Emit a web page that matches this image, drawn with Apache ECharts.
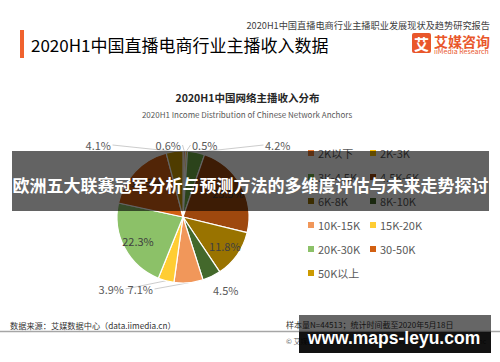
<!DOCTYPE html>
<html><head><meta charset="utf-8">
<script src="https://cdn.jsdelivr.net/npm/echarts@6/dist/echarts.min.js"></script>
<style>html,body{margin:0;padding:0;background:#fff}#c{width:500px;height:362px}</style>
</head><body><div id="c"></div>
<script>
// ---- data ----
const categories = ['2K以下','2K-3K','3K-4.5K','4.5K-6K','6K-8K','8K-10K','10K-15K','15K-20K','20K-30K','30-50K','50K以上'];
const shares = [0.6, 0.5, 4.2, 23.5, 11.8, 4.5, 7.1, 3.9, 22.3, 17.5, 4.1];
const legendColumnA = ['2K以下','3K-4.5K','6K-8K','10K-15K','20K-30K','50K以上'];
const legendColumnB = ['2K-3K','4.5K-6K','8K-10K','15K-20K','30-50K'];

// ---- styles ----
const palette = ['#ED7D31','#FFC000','#70AD47','#9E480E','#997300','#43682B','#F1975A','#FFCD33','#8CC168','#D26012','#CC9A00'];
const FONT = '"Noto Sans CJK SC", "Noto Sans", sans-serif';
const insideThreshold = 10;
const outsideSpots = {
  '50K以上': {x: 111, y: 145, align: 'right'},
  '2K以下': {x: 181, y: 145, align: 'right'},
  '2K-3K':  {x: 192, y: 145, align: 'left'},
  '3K-4.5K': {x: 265, y: 145, align: 'left'},
  '8K-10K': {x: 213, y: 290, align: 'left'},
  '10K-15K': {x: 153, y: 289, align: 'right'},
  '15K-20K': {x: 124, y: 289, align: 'right'}
};
const fmt = p => Number(p.value).toFixed(1) + '%';

const chart = echarts.init(document.getElementById('c'), null, {renderer: 'svg', width: 500, height: 362});

function txt(x, y, text, font, fill, align, z) {
  return {type: 'text', x: x, y: y, z: z || 10, silent: true,
    style: {text: text, font: font, fill: fill, align: align || 'left', verticalAlign: 'middle',
            textAlign: align || 'left', textVerticalAlign: 'middle'}};
}

const legendBase = {
  orient: 'vertical', top: 146, itemWidth: 6, itemHeight: 6, itemGap: 10, icon: 'rect', padding: 0,
  selectedMode: false, itemStyle: {borderWidth: 0},
  textStyle: {fontSize: 11, color: '#595959', lineHeight: 14, fontFamily: FONT, padding: [0, 0, 0, -1]}
};

chart.setOption({
  animation: false,
  backgroundColor: '#ffffff',
  legend: [
    Object.assign({}, legendBase, {data: legendColumnA, left: 308}),
    Object.assign({}, legendBase, {data: legendColumnB, left: 370})
  ],
  series: [
    {
      type: 'pie', center: [183, 217], radius: 66, startAngle: 90, clockwise: true,
      avoidLabelOverlap: false, z: 2,
      itemStyle: {borderColor: '#ffffff', borderWidth: 1.2},
      label: {show: true, position: 'outside', formatter: fmt, fontSize: 11, color: '#595959', fontFamily: FONT},
      labelLine: {show: true, length: 6, length2: 6, lineStyle: {color: '#BFBFBF', width: 0.8}},
      emphasis: {disabled: true},
      labelLayout: function (p) {
        if (p.seriesIndex !== 0) return;
        const s = outsideSpots[categories[p.dataIndex]];
        if (!s) return;
        const out = {x: s.x, y: s.y, align: s.align, verticalAlign: 'middle', hideOverlap: false};
        if (p.labelLinePoints) {
          const a = p.labelLinePoints[0];
          const end = [s.align === 'right' ? s.x + 1.5 : s.x - 1.5, s.y];
          out.labelLinePoints = [a, end, end];
        }
        return out;
      },
      data: categories.map((n, i) => ({
        name: n, value: shares[i], itemStyle: {color: palette[i]},
        label: {show: shares[i] < insideThreshold},
        labelLine: {show: shares[i] < insideThreshold && n !== '8K-10K'}
      }))
    },
    {
      type: 'pie', center: [183, 217], radius: [30, 66], startAngle: 90, clockwise: true,
      silent: true, z: 3, avoidLabelOverlap: false,
      itemStyle: {color: 'rgba(0,0,0,0)', borderWidth: 0},
      label: {show: true, position: 'inside', formatter: fmt, fontSize: 11, color: '#404040', fontFamily: FONT},
      labelLine: {show: false},
      emphasis: {disabled: true},
      data: categories.map((n, i) => ({
        name: n, value: shares[i],
        label: {show: shares[i] >= insideThreshold}
      }))
    }
  ],
  graphic: {elements: [
    {type: 'rect', z: 10, silent: true, shape: {x: 20, y: 30, width: 4, height: 28}, style: {fill: '#F0622E'}},
    txt(31, 44, '2020H1中国直播电商行业主播收入数据', '17px ' + FONT, '#000000'),
    txt(490, 25, '2020H1中国直播电商行业主播职业发展现状及趋势研究报告', '9.2px ' + FONT, '#404040', 'right'),
    {type: 'rect', z: 10, silent: true, shape: {x: 412, y: 33, width: 19, height: 20, r: 2}, style: {fill: '#E9572B'}},
    txt(421.5, 43.5, '艾', 'bold 15px ' + FONT, '#ffffff', 'center'),
    txt(434, 41, '艾媒咨询', 'bold 14px ' + FONT, '#E9572B'),
    txt(434, 51, 'iiMedia Research', '7px ' + FONT, '#E9572B'),
    txt(247.5, 97.5, '2020H1中国网络主播收入分布', 'bold 10.5px ' + FONT, '#262626', 'center'),
    txt(247, 114, '2020H1 Income Distribution of Chinese Network Anchors', '8px ' + FONT, '#595959', 'center'),
    txt(10, 324.5, '数据来源：艾媒数据中心（data.iimedia.cn）', '8.2px ' + FONT, '#333333'),
    txt(286, 324, '样本量N=44513；统计时间截至2020年5月18日', '8px ' + FONT, '#333333'),
    {type: 'line', z: 10, silent: true, shape: {x1: 0, y1: 331.5, x2: 500, y2: 331.5}, style: {stroke: '#A6A6A6', lineWidth: 1.5}},
    txt(286, 341, '© 艾媒报告中心: report.iimedia.cn ©2020 iiMedia Research Inc', '7px ' + FONT, '#595959'),
    // overlays
    {type: 'rect', z: 100, silent: true, shape: {x: 12, y: 151, width: 477, height: 60}, style: {fill: 'rgba(0,0,0,0.61)'}},
    txt(250.5, 184, '欧洲五大联赛冠军分析与预测方法的多维度评估与未来走势探讨', 'bold 17px ' + FONT, '#ffffff', 'center', 101),
    {type: 'rect', z: 100, silent: true, shape: {x: 299, y: 315, width: 192, height: 17}, style: {fill: 'rgba(0,0,0,0.6)'}},
    {type: 'rect', z: 100, silent: true, shape: {x: 299, y: 332, width: 192, height: 21}, style: {fill: 'rgba(0,0,0,0.93)'}},
    txt(394, 338, 'www.maps-leyu.com', 'bold 17.5px "Liberation Sans", Arial, sans-serif', '#ffffff', 'center', 101)
  ]}
});
</script>
</body></html>
